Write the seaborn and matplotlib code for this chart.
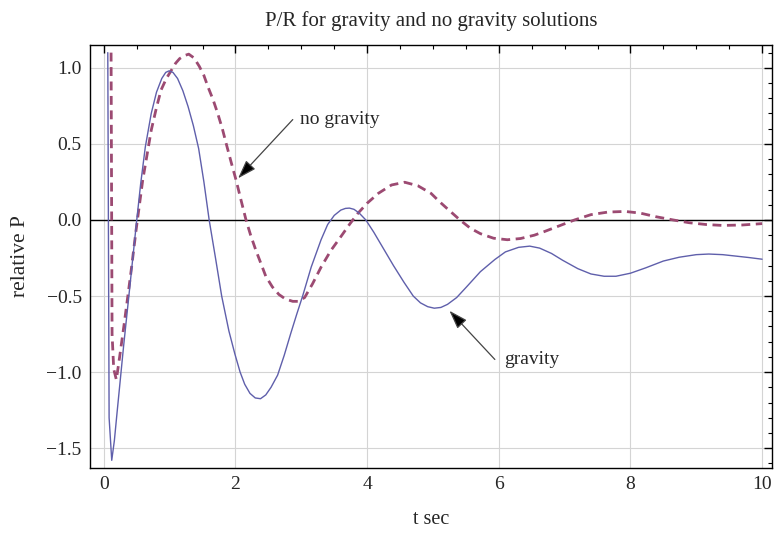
import matplotlib
matplotlib.use("Agg")
import matplotlib.pyplot as plt
from matplotlib.ticker import MultipleLocator
import seaborn as sns
import pandas as pd

# ---- data ----
t_gravity = [0.06, 0.08, 0.12, 0.16, 0.2, 0.25, 0.3, 0.38, 0.44, 0.5, 0.56, 0.63, 0.72, 0.8,
             0.88, 0.94, 0.99, 1.05, 1.12, 1.2, 1.28, 1.36, 1.44, 1.52, 1.6, 1.7, 1.79, 1.9,
             1.99, 2.07, 2.14, 2.22, 2.3, 2.38, 2.46, 2.54, 2.64, 2.74, 2.84, 2.93, 3.02,
             3.15, 3.3, 3.4, 3.5, 3.6, 3.67, 3.73, 3.8, 3.88, 3.98, 4.1, 4.25, 4.4, 4.56,
             4.7, 4.81, 4.92, 5.02, 5.12, 5.22, 5.36, 5.51, 5.72, 5.94, 6.1, 6.3, 6.47,
             6.62, 6.8, 6.97, 7.2, 7.4, 7.6, 7.78, 8.0, 8.23, 8.5, 8.74, 9.0, 9.19, 9.4,
             9.59, 9.8, 10.0]
p_gravity = [1.10, -1.30, -1.58, -1.45, -1.27, -1.05, -0.83, -0.50, -0.25, 0.0, 0.24, 0.48, 0.70, 0.84,
             0.93, 0.97, 0.98, 0.97, 0.93, 0.85, 0.745, 0.62, 0.47, 0.25, 0.0, -0.26, -0.50, -0.73,
             -0.88, -1.00, -1.08, -1.14, -1.17, -1.175, -1.15, -1.10, -1.02, -0.89, -0.745, -0.62, -0.50,
             -0.31, -0.13, -0.03, 0.03, 0.065, 0.076, 0.078, 0.07, 0.045, 0.0, -0.08, -0.19, -0.30, -0.41,
             -0.50, -0.545, -0.57, -0.58, -0.575, -0.555, -0.51, -0.44, -0.34, -0.26, -0.21, -0.18, -0.172,
             -0.185, -0.22, -0.265, -0.32, -0.355, -0.37, -0.37, -0.35, -0.315, -0.27, -0.245, -0.228, -0.224, -0.228,
             -0.237, -0.247, -0.258]

t_nogravity = [0.11, 0.125, 0.15, 0.19, 0.24, 0.31, 0.41, 0.49, 0.59, 0.72, 0.8, 0.87, 0.95,
               1.02, 1.09, 1.15, 1.22, 1.29, 1.37, 1.45, 1.52, 1.58, 1.66, 1.73, 1.8, 1.86,
               1.94, 2.01, 2.09, 2.16, 2.23, 2.31, 2.39, 2.46, 2.56, 2.66, 2.76, 2.87, 2.95,
               3.05, 3.17, 3.3, 3.45, 3.6, 3.73, 3.86, 4.0, 4.17, 4.37, 4.57, 4.77, 4.97,
               5.1, 5.21, 5.41, 5.57, 5.72, 5.92, 6.13, 6.33, 6.54, 6.7, 6.85, 7.0, 7.15,
               7.4, 7.66, 7.92, 8.15, 8.38, 8.65, 8.89, 9.15, 9.4, 9.7, 10.0]
p_nogravity = [1.10, -0.75, -0.98, -1.05, -0.90, -0.68, -0.35, -0.066, 0.26, 0.59, 0.74, 0.855, 0.93,
               0.98, 1.03, 1.06, 1.08, 1.09, 1.065, 1.01, 0.95, 0.877, 0.79, 0.70, 0.60, 0.50,
               0.37, 0.26, 0.12, 0.0, -0.10, -0.20, -0.29, -0.37, -0.44, -0.49, -0.52, -0.535, -0.535,
               -0.51, -0.42, -0.31, -0.20, -0.11, -0.03, 0.044, 0.11, 0.175, 0.23, 0.248, 0.225, 0.175,
               0.12, 0.077, 0.0, -0.055, -0.09, -0.12, -0.13, -0.122, -0.10, -0.075, -0.05, -0.025, 0.0,
               0.035, 0.052, 0.056, 0.045, 0.022, 0.0, -0.018, -0.03, -0.036, -0.033, -0.024]

title = "P/R for gravity and no gravity solutions"
xlabel = "t sec"
ylabel = "relative P"

# ---- styling ----
sns.set_style("white")
plt.rcParams["font.family"] = ["Liberation Serif", "DejaVu Serif"]

fig = plt.figure(figsize=(7.74, 5.36), dpi=100)
ax = fig.add_axes([0.1163, 0.127, 0.8811, 0.789])

df_g = pd.DataFrame({"t": t_gravity, "p": p_gravity})
df_n = pd.DataFrame({"t": t_nogravity, "p": p_nogravity})

ax.axhline(0, color="black", lw=1.0, zorder=1)
sns.lineplot(data=df_g, x="t", y="p", ax=ax, color="#5f5fab", lw=1.0, sort=False,
             estimator=None, zorder=3)
sns.lineplot(data=df_n, x="t", y="p", ax=ax, color="#9c4a72", lw=2.0, sort=False,
             estimator=None, zorder=2)
ax.lines[-1].set_dashes((3.2, 2.0))

ax.set_xlim(-0.21, 10.15)
ax.set_ylim(-1.63, 1.15)

ax.xaxis.set_major_locator(MultipleLocator(2))
ax.xaxis.set_minor_locator(MultipleLocator(0.5))
ax.yaxis.set_major_locator(MultipleLocator(0.5))
ax.yaxis.set_minor_locator(MultipleLocator(0.1))
ax.xaxis.set_major_formatter(plt.FuncFormatter(lambda v, p: f"{v:.0f}"))
ax.yaxis.set_major_formatter(plt.FuncFormatter(lambda v, p: f"{v:.1f}".replace("-", "\u2212")))

ax.grid(True, which="major", color="#d4d4d4", lw=0.8, zorder=0)
ax.set_axisbelow(True)
ax.tick_params(which="both", direction="in", top=True, right=True, color="black",
               labelsize=14, pad=6)
ax.tick_params(which="major", length=6, width=1.0)
ax.tick_params(which="minor", length=3, width=0.8)
for s in ax.spines.values():
    s.set_color("black")
    s.set_linewidth(1.0)

ax.set_xlabel(xlabel, fontsize=14.5, labelpad=12)
ax.set_ylabel(ylabel, fontsize=15.5, labelpad=12)
ax.set_title(title, fontsize=15, pad=14)

arrow = dict(arrowstyle="-|>,head_length=0.95,head_width=0.32", ec="#444444", fc="black",
             lw=0.9, mutation_scale=12, shrinkA=0, shrinkB=0)
ax.annotate("", xy=(2.04, 0.274), xytext=(2.87, 0.66), arrowprops=arrow)
ax.text(2.98, 0.66, "no gravity", fontsize=14, va="center", ha="left")
ax.annotate("", xy=(5.25, -0.597), xytext=(5.94, -0.917), arrowprops=arrow)
ax.text(6.08, -0.92, "gravity", fontsize=14, va="center", ha="left")

fig.savefig("out.png", dpi=100)
